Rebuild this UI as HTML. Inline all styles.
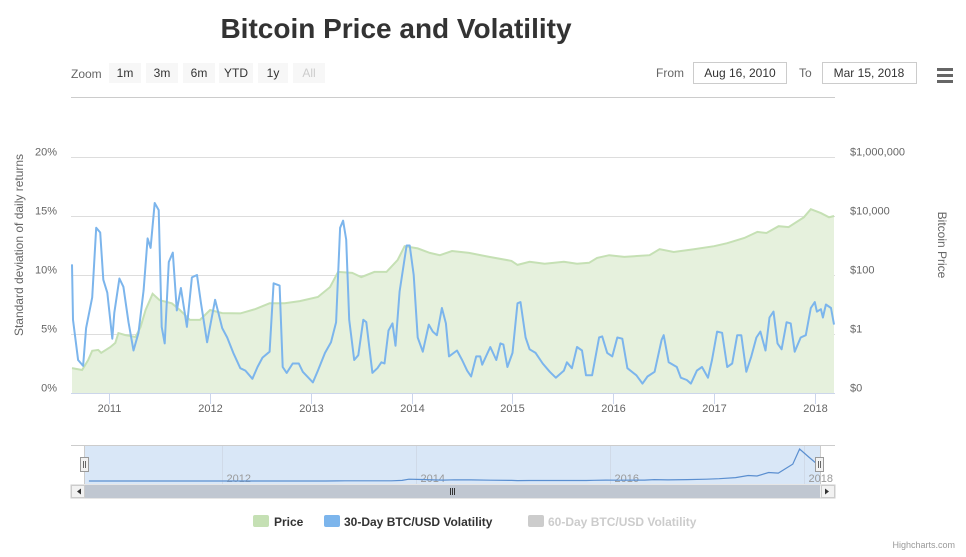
<!DOCTYPE html>
<html><head><meta charset="utf-8"><style>
body{margin:0;background:#fff;font-family:"Liberation Sans",sans-serif}
svg text{font-family:"Liberation Sans",sans-serif}
</style></head><body>
<svg id="c" width="966" height="552" xmlns="http://www.w3.org/2000/svg">
<text x="396" y="38" text-anchor="middle" font-size="28" font-weight="bold" fill="#333">Bitcoin Price and Volatility</text>
<g font-size="12" fill="#333">
<text x="71" y="78" fill="#666">Zoom</text>
<g><rect x="109" y="63" width="32" height="20" fill="#f7f7f7"/><text x="125" y="77" text-anchor="middle">1m</text></g>
<g><rect x="146" y="63" width="32" height="20" fill="#f7f7f7"/><text x="162" y="77" text-anchor="middle">3m</text></g>
<g><rect x="183" y="63" width="32" height="20" fill="#f7f7f7"/><text x="199" y="77" text-anchor="middle">6m</text></g>
<g><rect x="219" y="63" width="34" height="20" fill="#f7f7f7"/><text x="236" y="77" text-anchor="middle">YTD</text></g>
<g><rect x="258" y="63" width="30" height="20" fill="#f7f7f7"/><text x="273" y="77" text-anchor="middle">1y</text></g>
<g><rect x="293" y="63" width="32" height="20" fill="#f7f7f7"/><text x="309" y="77" text-anchor="middle" fill="#ccc">All</text></g>
<text x="656" y="77" fill="#666">From</text>
<g><rect x="693.5" y="62.5" width="93" height="21" fill="#fff" stroke="#ccc"/><text x="740" y="77" text-anchor="middle">Aug 16, 2010</text></g>
<text x="799" y="77" fill="#666">To</text>
<g><rect x="822.5" y="62.5" width="94" height="21" fill="#fff" stroke="#ccc"/><text x="869" y="77" text-anchor="middle">Mar 15, 2018</text></g>
</g>
<g fill="#666"><rect x="937" y="68" width="16" height="3"/><rect x="937" y="74" width="16" height="3"/><rect x="937" y="80" width="16" height="3"/></g>
<line x1="71" y1="97.5" x2="835" y2="97.5" stroke="#ccc"/>
<g id="grid"></g>
<g id="plot"></g>
<text transform="translate(23,245) rotate(-90)" text-anchor="middle" font-size="12" fill="#666">Standard deviation of daily returns</text>
<text transform="translate(938,245) rotate(90)" text-anchor="middle" font-size="12" fill="#666">Bitcoin Price</text>
<g id="nav"></g>
<g font-size="12" font-weight="bold">
<g><rect x="253" y="515" width="16" height="12" rx="2" fill="#c5e0b4"/><text x="274" y="526" fill="#333">Price</text></g>
<g><rect x="324" y="515" width="16" height="12" rx="2" fill="#7cb5ec"/><text x="344" y="526" fill="#333">30-Day BTC/USD Volatility</text></g>
<g><rect x="528" y="515" width="16" height="12" rx="2" fill="#ccc"/><text x="548" y="526" fill="#ccc">60-Day BTC/USD Volatility</text></g>
</g>
<text x="955" y="548" text-anchor="end" font-size="9" fill="#999">Highcharts.com</text>
</svg>
<script>
const volDates=[2010.63,2010.64,2010.69,2010.74,2010.77,2010.83,2010.87,2010.91,2010.94,2010.98,2011.03,2011.05,2011.10,2011.14,2011.19,2011.24,2011.29,2011.34,2011.38,2011.41,2011.45,2011.49,2011.52,2011.55,2011.59,2011.63,2011.67,2011.71,2011.77,2011.82,2011.87,2011.91,2011.97,2012.05,2012.12,2012.17,2012.23,2012.30,2012.35,2012.42,2012.47,2012.52,2012.59,2012.63,2012.69,2012.72,2012.76,2012.82,2012.88,2012.92,2013.02,2013.07,2013.14,2013.20,2013.25,2013.29,2013.32,2013.35,2013.38,2013.43,2013.47,2013.52,2013.55,2013.61,2013.66,2013.70,2013.73,2013.77,2013.81,2013.84,2013.88,2013.95,2013.98,2014.02,2014.06,2014.11,2014.17,2014.21,2014.25,2014.30,2014.34,2014.37,2014.45,2014.50,2014.55,2014.59,2014.64,2014.68,2014.70,2014.78,2014.84,2014.88,2014.91,2014.95,2015.00,2015.05,2015.08,2015.13,2015.17,2015.23,2015.30,2015.37,2015.43,2015.51,2015.54,2015.59,2015.64,2015.69,2015.73,2015.79,2015.86,2015.89,2015.94,2015.99,2016.04,2016.09,2016.14,2016.23,2016.29,2016.34,2016.41,2016.48,2016.50,2016.55,2016.63,2016.67,2016.73,2016.77,2016.83,2016.88,2016.94,2016.98,2017.03,2017.08,2017.13,2017.18,2017.23,2017.27,2017.32,2017.37,2017.42,2017.46,2017.51,2017.55,2017.59,2017.63,2017.67,2017.72,2017.76,2017.80,2017.86,2017.91,2017.96,2018.00,2018.02,2018.06,2018.08,2018.11,2018.16,2018.19];
const volValues=[10.9,6.2,2.8,2.3,5.5,8.1,14,13.6,9.6,8.5,4.6,6.8,9.7,9,6,3.6,5.1,8.7,13.1,12.3,16.1,15.5,5.6,4.2,11.1,11.9,7,8.9,5.6,9.8,10,7.6,4.3,7.9,5.5,4.7,3.4,2.1,1.9,1.2,2.2,3,3.5,9.3,9.1,2.2,1.7,2.5,2.5,1.8,0.9,1.9,3.4,4.3,6,14,14.6,13,6.2,2.8,3.2,6.2,6,1.7,2.1,2.6,2.5,5.3,5.9,4,8.6,12.5,12.5,10,4.7,3.5,5.8,5.2,4.9,7.2,5.9,3.1,3.6,2.8,1.9,1.4,3.1,3.1,2.4,3.9,2.8,4.2,4.1,2.2,3.4,7.6,7.7,4.7,3.7,3.4,2.5,1.8,1.3,1.9,2.6,2.1,3.9,3.6,1.5,1.5,4.7,4.8,3.4,3.1,4.7,4.6,2.1,1.5,0.8,1.4,1.8,4.5,4.9,2.6,2.2,1.3,1.1,0.8,1.9,2.2,1.3,2.8,5.2,5.1,2.2,2.5,4.9,4.9,1.8,3.1,4.7,5.2,3.6,6.4,6.9,4.2,3.7,6,5.9,3.5,4.7,4.9,7.2,7.7,6.9,7.1,6.4,7.5,7.2,5.8];
const priceDates=[2010.63,2010.73,2010.79,2010.83,2010.89,2010.92,2011.01,2011.06,2011.09,2011.16,2011.26,2011.31,2011.36,2011.43,2011.50,2011.62,2011.70,2011.80,2011.90,2012.00,2012.12,2012.30,2012.45,2012.59,2012.74,2012.89,2013.07,2013.19,2013.27,2013.41,2013.50,2013.63,2013.75,2013.86,2013.93,2014.06,2014.18,2014.28,2014.40,2014.57,2014.77,2014.99,2015.05,2015.17,2015.32,2015.51,2015.64,2015.76,2015.84,2015.96,2016.11,2016.36,2016.46,2016.60,2016.80,2017.00,2017.13,2017.30,2017.43,2017.52,2017.64,2017.74,2017.89,2017.96,2018.06,2018.14,2018.19];
const priceValues=[0.07,0.06,0.13,0.27,0.29,0.23,0.36,0.5,1.07,0.92,0.79,1.7,6.5,23,14,11,6.5,3,3,6.5,5.1,5,7,11,11,13,18,39,127,118,85,127,127,320,950,800,560,470,650,560,410,300,220,280,240,280,240,260,380,470,410,470,750,600,750,950,1200,1800,2900,2650,4500,4200,9000,17000,12500,9000,10000];
const leftTicks=["0%","5%","10%","15%","20%"];
const rightTicks=["$0","$1","$100","$10,000","$1,000,000"];
const xTickYears=[2011,2012,2013,2014,2015,2016,2017,2018];
const navTickYears=[2012,2014,2016,2018];

const NS="http://www.w3.org/2000/svg";
function mk(tag,attrs,parent){const e=document.createElementNS(NS,tag);for(const k in attrs)e.setAttribute(k,attrs[k]);parent.appendChild(e);return e;}
const X0=71,X1=835,T0=2010.62,T1=2018.2;
const x=t=>X0+(t-T0)/(T1-T0)*(X1-X0);
const yTop=157,yBot=393;
const yL=v=>yBot-v/20*(yBot-yTop);
const yR=p=>yBot-(Math.log10(p)+2)/8*(yBot-yTop);
const grid=document.getElementById('grid'),plot=document.getElementById('plot'),nav=document.getElementById('nav');
leftTicks.forEach((s,i)=>{const yy=Math.round(yL(i*5))+0.5;
 const l=mk('line',{x1:X0,x2:X1,y1:yy,y2:yy,stroke:'#ddd'},grid);
 
 
 const t=mk('text',{x:57,y:yy-2,'text-anchor':'end','font-size':11,fill:'#666'},grid);t.textContent=s;
 
 
 const r=mk('text',{x:850,y:yy-2,'font-size':11,fill:'#666'},grid);r.textContent=rightTicks[i];
 
 
});
let d='M'+x(priceDates[0])+','+yBot;priceDates.forEach((t,i)=>d+='L'+x(t).toFixed(1)+','+yR(priceValues[i]).toFixed(1));
d+='L'+x(priceDates[priceDates.length-1])+','+yBot+'Z';
const pa=mk('path',{d:d,fill:'#e6f1dd'},plot);


let dl='';priceDates.forEach((t,i)=>dl+=(i?'L':'M')+x(t).toFixed(1)+','+yR(priceValues[i]).toFixed(1));
const pl=mk('path',{d:dl,fill:'none',stroke:'#c5e0b4','stroke-width':2},plot);


let dv='';volDates.forEach((t,i)=>dv+=(i?'L':'M')+x(t).toFixed(1)+','+yL(volValues[i]).toFixed(1));
const vl=mk('path',{d:dv,fill:'none',stroke:'#7cb5ec','stroke-width':2,'stroke-linejoin':'round'},plot);


const ax=mk('line',{x1:X0,x2:X1,y1:393.5,y2:393.5,stroke:'#ccd6eb'},plot);


xTickYears.forEach(yr=>{const xx=Math.round(x(yr))+0.5;
 const tk=mk('line',{x1:xx,x2:xx,y1:394,y2:404,stroke:'#ccd6eb'},plot);
 
 
 const t=mk('text',{x:xx,y:412,'text-anchor':'middle','font-size':11,fill:'#666'},plot);t.textContent=yr;
 
 
});
const N0=85,N1=820,NT0=2010.59,NT1=2018.17,nTop=446,nBot=484;
const nx=t=>N0+(t-NT0)/(NT1-NT0)*(N1-N0);
const ny=p=>nBot-3-p/17000*(nBot-nTop-6);
const nbg=mk('rect',{x:71,y:nTop,width:764,height:nBot-nTop,fill:'#fff'},nav);


const mask=mk('rect',{x:N0,y:nTop,width:N1-N0,height:nBot-nTop,fill:'#d9e7f7'},nav);


mk('line',{x1:71,x2:835,y1:445.5,y2:445.5,stroke:'#ccc'},nav);
mk('line',{x1:N0-0.5,x2:N0-0.5,y1:446,y2:484,stroke:'#ccc'},nav);
mk('line',{x1:N1+0.5,x2:N1+0.5,y1:446,y2:484,stroke:'#ccc'},nav);
navTickYears.forEach(yr=>{const xx=Math.round(nx(yr))+0.5;
 mk('line',{x1:xx,x2:xx,y1:nTop,y2:nBot,stroke:'#d0dae8'},nav);
 const t=mk('text',{x:xx+4,y:482,'font-size':11,fill:'#999'},nav);t.textContent=yr;
 
 
});
let dn='';priceDates.forEach((t,i)=>dn+=(i?'L':'M')+nx(t).toFixed(1)+','+ny(priceValues[i]).toFixed(1));
const nl=mk('path',{d:dn,fill:'none',stroke:'#5b8fd0','stroke-width':1.2},nav);


[N0,N1].forEach(hx=>{const h=mk('rect',{x:hx-4.5,y:457.5,width:8,height:14,fill:'#f2f2f2',stroke:'#999'},nav);
 
 
 mk('line',{x1:hx-1.5,x2:hx-1.5,y1:461,y2:468,stroke:'#666'},nav);mk('line',{x1:hx+0.5,x2:hx+0.5,y1:461,y2:468,stroke:'#666'},nav);});
const sb=mk('rect',{x:71,y:485,width:764,height:13,fill:'#f2f2f2',stroke:'#ccc'},nav);


const th=mk('rect',{x:85,y:485,width:735,height:13,fill:'#c0c7d1'},nav);


[[71,'M77,491.5L81,488.5L81,494.5Z'],[821,'M829,491.5L825,488.5L825,494.5Z']].forEach(([bx,p])=>{
 const b=mk('rect',{x:bx+0.5,y:485.5,width:13,height:12,fill:'#f2f2f2',stroke:'#ccc'},nav);
 
 
 mk('path',{d:p,fill:'#333'},nav);});
[450,452,454].forEach(gx=>mk('line',{x1:gx+.5,x2:gx+.5,y1:488,y2:495,stroke:'#333'},nav));
</script>
</body></html>
